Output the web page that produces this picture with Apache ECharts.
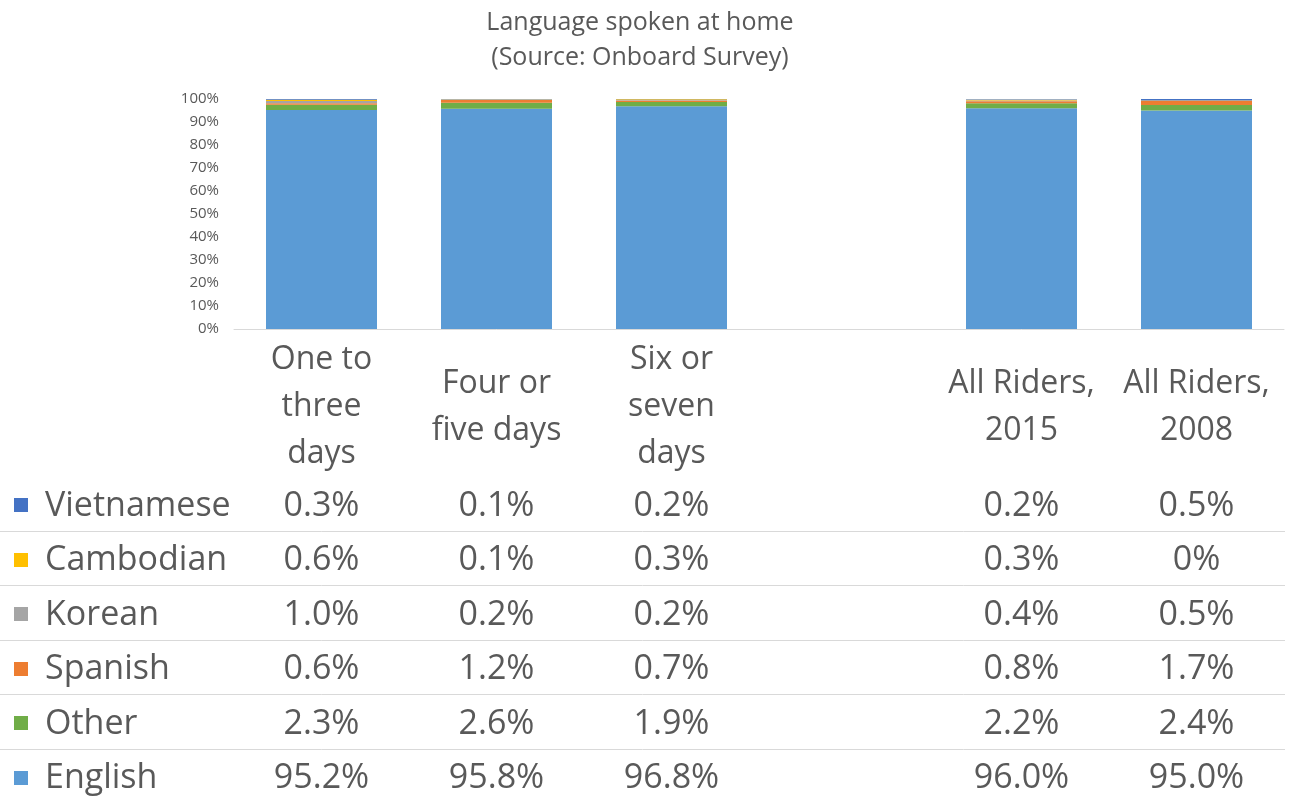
<!DOCTYPE html>
<html>
<head>
    <meta charset="utf-8">
    <script src="https://cdn.jsdelivr.net/npm/echarts@6/dist/echarts.min.js"></script>
    <style>
        body { margin: 0; background: #fff; }
    </style>
</head>
<body>
<div id="chart" style="width: 1289px; height: 797px;"></div>
<script type="text/javascript">
    // Data
    var categories = ['One to\nthree\ndays', 'Four or\nfive days', 'Six or\nseven\ndays', '', 'All Riders,\n2015', 'All Riders,\n2008'];
    var vietnamese = [0.3, 0.1, 0.2, '-', 0.2, 0.5];
    var cambodian  = [0.6, 0.1, 0.3, '-', 0.3, 0];
    var korean     = [1.0, 0.2, 0.2, '-', 0.4, 0.5];
    var spanish    = [0.6, 1.2, 0.7, '-', 0.8, 1.7];
    var other      = [2.3, 2.6, 1.9, '-', 2.2, 2.4];
    var english    = [95.2, 95.8, 96.8, '-', 96.0, 95.0];

    // table rows, top to bottom
    var rows = [
        {name: 'Vietnamese', color: '#4472C4', data: vietnamese},
        {name: 'Cambodian', color: '#FFC000', data: cambodian},
        {name: 'Korean', color: '#A5A5A5', data: korean},
        {name: 'Spanish', color: '#ED7D31', data: spanish},
        {name: 'Other', color: '#70AD47', data: other},
        {name: 'English', color: '#5B9BD5', data: english}
    ];

    var font = '"Open Sans", sans-serif';
    var textColor = '#595959';
    var rowTop = 476, rowH = 54.5;

    // stacked from the bottom: English first
    var series = rows.slice().reverse().map(r => ({
        name: r.name,
        type: 'bar',
        stack: 'total',
        barWidth: 111,
        itemStyle: { color: r.color },
        data: r.data
    }));

    var chart = echarts.init(document.getElementById('chart'));
    var option = {
        animation: false,
        title: {
            text: 'Language spoken at home\n(Source: Onboard Survey)',
            left: 635,
            textAlign: 'center',
            top: 0,
            textStyle: { fontFamily: font, fontSize: 25, fontWeight: 'normal', color: textColor, lineHeight: 35 }
        },
        grid: { left: 234, right: 5, top: 99, bottom: 468 },
        xAxis: {
            type: 'category',
            data: categories,
            axisTick: { show: false },
            axisLine: { lineStyle: { color: '#d9d9d9' } },
            axisLabel: {
                interval: 0,
                margin: 78,
                verticalAlign: 'middle',
                fontFamily: font, fontSize: 32, color: textColor, lineHeight: 47
            }
        },
        yAxis: {
            type: 'value',
            min: 0,
            max: 100,
            interval: 10,
            splitLine: { show: false },
            axisLabel: { formatter: '{value}%', fontFamily: font, fontSize: 15, color: textColor, margin: 15 }
        },
        series: series
    };
    chart.setOption(option);

    // data table under the axis, with legend keys on the left
    var graphics = [];
    rows.forEach((r, i) => {
        var cy = rowTop + rowH * i + rowH / 2 + 3;
        graphics.push({
            type: 'rect',
            shape: { x: 14, y: Math.round(cy - 8), width: 14, height: 14 },
            style: { fill: r.color }
        });
        graphics.push({
            type: 'text',
            x: 45,
            y: cy,
            style: {
                text: r.name,
                fontFamily: font, fontSize: 34, fill: textColor,
                align: 'left', verticalAlign: 'middle'
            }
        });
        r.data.forEach((v, j) => {
            if (v === '-') return;
            var x = chart.convertToPixel({ xAxisIndex: 0 }, j);
            graphics.push({
                type: 'text',
                x: x,
                y: cy,
                style: {
                    text: v === 0 ? '0%' : v.toFixed(1) + '%',
                    fontFamily: font, fontSize: 34, fill: textColor,
                    align: 'center', verticalAlign: 'middle'
                }
            });
        });
        if (i > 0) {
            var ly = Math.round(rowTop + rowH * i) + 0.5;
            graphics.push({
                type: 'line',
                shape: { x1: 0, y1: ly, x2: 1285, y2: ly },
                style: { stroke: '#d9d9d9', lineWidth: 1 }
            });
        }
    });
    chart.setOption({ graphic: graphics });
</script>
</body>
</html>
